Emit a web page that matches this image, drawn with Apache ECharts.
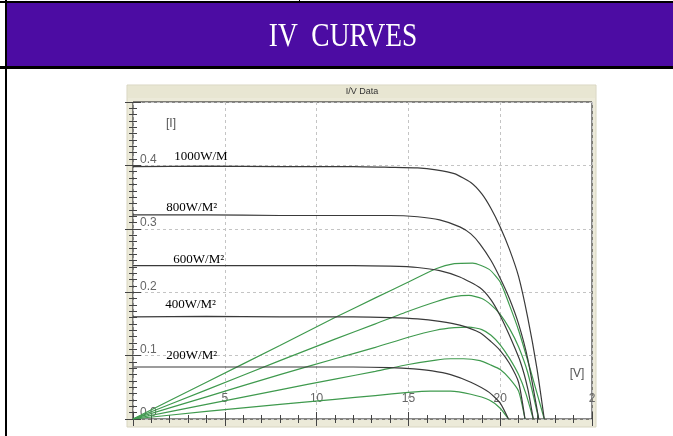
<!DOCTYPE html>
<html>
<head>
<meta charset="utf-8">
<script src="https://cdn.jsdelivr.net/npm/echarts@6/dist/echarts.min.js"></script>
<style>
  html, body { margin: 0; padding: 0; background: #fff; }
  #main { width: 673px; height: 436px; }
</style>
</head>
<body>
<div id="main"></div>
<script>
	// 辐照度名称
	var irradiance = ['1000W/M', '800W/M\u00b2', '600W/M\u00b2', '400W/M\u00b2', '200W/M\u00b2'];

	// I-V 曲线 [V, I]
	var iv1000 = [[0,0.398],[4,0.399],[8,0.398],[12,0.398],[14,0.397],[15.5,0.396],[16.5,0.393],[17.5,0.387],[18.4,0.373],[19,0.355],[19.5,0.332],[20,0.303],[20.5,0.268],[21,0.225],[21.5,0.16],[22,0.08],[22.4,0]];
	var iv800 = [[0,0.322],[4,0.322],[8,0.321],[12,0.321],[14,0.321],[15.5,0.319],[16.7,0.314],[17.8,0.303],[18.4,0.292],[18.9,0.276],[19.5,0.25],[20,0.222],[20.5,0.19],[21,0.15],[21.5,0.095],[22.1,0]];
	var iv600 = [[0,0.242],[4,0.242],[8,0.242],[12,0.242],[14,0.241],[15.5,0.239],[16.7,0.234],[17.8,0.224],[18.9,0.207],[19.5,0.188],[20,0.163],[20.5,0.132],[21.1,0.09],[21.5,0.048],[21.8,0]];
	var iv400 = [[0,0.161],[4,0.162],[8,0.161],[12,0.161],[14,0.16],[15.5,0.158],[16.7,0.154],[17.8,0.148],[18.9,0.136],[19.5,0.122],[20,0.108],[20.5,0.088],[21,0.058],[21.35,0]];
	var iv200 = [[0,0.082],[4,0.082],[8,0.082],[12,0.082],[14,0.081],[15.3,0.079],[16.3,0.076],[17.3,0.07],[18.4,0.058],[19.4,0.042],[20,0.025],[20.45,0]];

	// P-V 曲线 (按图中纵轴读数)
	var pv1000 = [[0,0],[4,0.058],[8,0.116],[11,0.16],[13.2,0.191],[15,0.216],[16.5,0.237],[17.5,0.245],[18.5,0.246],[19.4,0.236],[20,0.216],[20.5,0.18],[21,0.14],[21.6,0.082],[22.4,0]];
	var pv800 = [[0,0],[4,0.046],[8,0.092],[11,0.126],[13.2,0.15],[15,0.17],[16.5,0.185],[17.5,0.193],[18.3,0.195],[19,0.19],[19.5,0.18],[20,0.165],[20.5,0.143],[21,0.114],[21.5,0.073],[22.1,0]];
	var pv600 = [[0,0],[4,0.035],[8,0.07],[11,0.095],[13.2,0.113],[15,0.129],[16.5,0.14],[17.5,0.144],[18.3,0.145],[19,0.141],[19.5,0.132],[20,0.117],[20.5,0.096],[21,0.07],[21.4,0.04],[21.8,0]];
	var pv400 = [[0,0],[4,0.023],[8,0.046],[11,0.063],[13.2,0.075],[15,0.086],[16.5,0.093],[17.3,0.095],[18,0.095],[18.9,0.092],[19.5,0.085],[20,0.078],[20.5,0.064],[21,0.044],[21.35,0]];
	var pv200 = [[0,0],[4,0.012],[8,0.023],[11,0.031],[13.2,0.037],[15,0.042],[16.2,0.044],[17.3,0.044],[18.4,0.039],[19.4,0.03],[20,0.017],[20.45,0]];

	var ivData = [iv1000, iv800, iv600, iv400, iv200];
	var pvData = [pv1000, pv800, pv600, pv400, pv200];

	// 刻度标签
	var xTickLabels = ['', '5', '10', '15', '20', '2'];
	var yTickLabels = ['0.0', '0.1', '0.2', '0.3', '0.4', ''];

	// 曲线标注的位置 [V, I]
	var labelAt = [[2.27,0.413],[1.84,0.333],[2.22,0.251],[1.78,0.18],[1.84,0.0995]];

	var vm = echarts.init(document.getElementById('main'));
	var series = [];
	for (var i = 0; i < ivData.length; i++) {
		series.push({
			type: 'line',
			data: pvData[i],
			showSymbol: false,
			smooth: 0.2,
			silent: true,
			lineStyle: { color: '#3f9a4e', width: 1.2 },
			z: 3
		});
		series.push({
			type: 'line',
			data: ivData[i],
			showSymbol: false,
			smooth: 0.2,
			silent: true,
			lineStyle: { color: '#3a3a3a', width: 1.2 },
			z: 4,
			markPoint: {
				symbol: 'circle',
				symbolSize: 1,
				itemStyle: { color: 'transparent' },
				label: {
					show: true,
					position: [0, 0],
					align: 'left',
					verticalAlign: 'middle',
					color: '#000',
					fontFamily: 'Liberation Serif',
					fontSize: 13,
					formatter: irradiance[i]
				},
				data: [{ coord: labelAt[i] }]
			}
		});
	}

	var tickCol = '#444';
	var gridLine = { show: true, lineStyle: { color: '#c4c4c4', type: [3, 3], width: 1 } };

	option = {
		backgroundColor: '#fff',
		animation: false,
		grid: {
			left: 133, right: 81, top: 102, bottom: 17,
			show: true, backgroundColor: '#fff', borderColor: '#111', borderWidth: 1
		},
		xAxis: [
			{
				type: 'value', min: 0, max: 25, interval: 5, position: 'bottom',
				axisLine: { show: false },
				axisTick: { inside: true, length: 7, lineStyle: { color: tickCol } },
				minorTick: { show: true, splitNumber: 5, length: 4, lineStyle: { color: tickCol } },
				splitLine: gridLine,
				axisLabel: {
					inside: true, margin: 14, color: '#666', fontSize: 12, fontFamily: 'Liberation Sans',
					formatter: function (v) { return xTickLabels[Math.round(v / 5)]; }
				}
			},
			{
				type: 'value', min: 0, max: 25, interval: 5, position: 'top',
				axisLine: { show: false },
				axisTick: { inside: true, length: 7, lineStyle: { color: tickCol } },
				minorTick: { show: true, splitNumber: 5, length: 4, lineStyle: { color: tickCol } },
				splitLine: { show: false },
				axisLabel: { show: false }
			}
		],
		yAxis: [
			{
				type: 'value', min: 0, max: 0.5, interval: 0.1, position: 'left',
				axisLine: { show: false },
				axisTick: { inside: true, length: 8, lineStyle: { color: tickCol } },
				minorTick: { show: true, splitNumber: 10, length: 4, lineStyle: { color: tickCol } },
				splitLine: gridLine,
				axisLabel: {
					inside: true, margin: 7, verticalAlign: 'bottom', color: '#666', fontSize: 12,
					fontFamily: 'Liberation Sans',
					formatter: function (v) { return yTickLabels[Math.round(v * 10)]; }
				}
			},
			{
				type: 'value', min: 0, max: 0.5, interval: 0.1, position: 'right',
				axisLine: { show: false },
				axisTick: { inside: true, length: 8, lineStyle: { color: tickCol } },
				minorTick: { show: true, splitNumber: 10, length: 4, lineStyle: { color: tickCol } },
				splitLine: { show: false },
				axisLabel: { show: false }
			}
		],
		graphic: [
			// 页面边框与标题栏
			{ type: 'rect', shape: { x: 0, y: 1, width: 673, height: 2 }, style: { fill: '#000' }, z: -5 },
			{ type: 'rect', shape: { x: 299, y: 0, width: 1, height: 3 }, style: { fill: '#000' }, z: -5 },
			{ type: 'rect', shape: { x: 7, y: 3, width: 666, height: 63 }, style: { fill: '#4c0ca3' }, z: -5 },
			{ type: 'rect', shape: { x: 0, y: 66, width: 673, height: 3 }, style: { fill: '#000' }, z: -5 },
			{ type: 'rect', shape: { x: 5, y: 0, width: 2, height: 436 }, style: { fill: '#000' }, z: -5 },
			{
				type: 'text', x: 343, y: 37, scaleX: 0.83, z: 10,
				style: {
					text: 'IV  CURVES', fill: '#fff', font: '33px "Liberation Serif"',
					textAlign: 'center', textVerticalAlign: 'middle'
				}
			},
			// 窗口外框
			{ type: 'rect', shape: { x: 127, y: 85, width: 469, height: 342 }, style: { fill: '#ecead9', stroke: '#d8d5c0', lineWidth: 1 }, z: -5 },
			{ type: 'rect', shape: { x: 128, y: 86, width: 467, height: 12 }, style: { fill: '#e8e6d2' }, z: -4 },
			{
				type: 'text', x: 362, y: 92, z: 10,
				style: { text: 'I/V Data', fill: '#333', font: '9px "Liberation Sans"', textAlign: 'center', textVerticalAlign: 'middle' }
			},
			{
				type: 'text', x: 171, y: 124, z: 10,
				style: { text: '[I]', fill: '#555', font: '12px "Liberation Sans"', textAlign: 'center', textVerticalAlign: 'middle' }
			},
			{
				type: 'text', x: 577, y: 374, z: 10,
				style: { text: '[V]', fill: '#555', font: '12px "Liberation Sans"', textAlign: 'center', textVerticalAlign: 'middle' }
			}
		],
		series: series
	};
	vm.setOption(option);
</script>
</body>
</html>
